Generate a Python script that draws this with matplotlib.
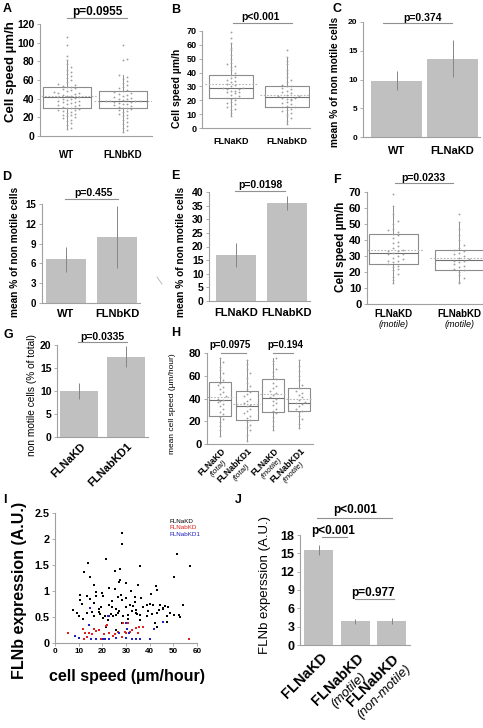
import numpy as np
import matplotlib
matplotlib.use('Agg')
import matplotlib.pyplot as plt
from matplotlib.lines import Line2D
from matplotlib.textpath import TextPath
from matplotlib.font_manager import FontProperties
import matplotlib.transforms as mtransforms

plt.rcParams['font.family'] = ['Liberation Sans', 'DejaVu Sans']

# ---------------- data ----------------
# A: cell speed WT vs FLNbKD (box plots)
A_groups = ['WT', 'FLNbKD']
A_q1 = [30, 30]
A_med = [42, 37]
A_q3 = [52, 48]
A_lo = [7, 4]
A_hi = [81, 65]
A_mean = [42.5, 38]
A_wt_pts = [7, 9, 12, 14, 16, 17, 19, 20, 21, 22, 23, 24, 25, 26, 27, 28, 28, 29, 30, 30, 31, 32, 33, 33,
            34, 35, 36, 36, 37, 38, 39, 40, 40, 41, 42, 42, 43, 43, 44, 45, 46, 46, 47, 48, 49, 50, 51, 52,
            53, 54, 55, 56, 58, 60, 62, 64, 66, 69, 71, 74, 77, 81, 86, 97, 106]
A_kd_pts = [4, 6, 9, 11, 13, 15, 17, 19, 21, 22, 24, 26, 27, 28, 29, 30, 30, 31, 32, 33, 34, 34, 35, 36,
            36, 37, 37, 38, 38, 39, 40, 40, 41, 42, 43, 44, 45, 46, 47, 48, 49, 51, 53, 55, 57, 59, 61,
            63, 65, 81, 82, 98]

# B: cell speed FLNaKD vs FLNabKD
B_groups = ['FLNaKD', 'FLNabKD']
B_q1 = [22, 15]
B_med = [29, 22.5]
B_q3 = [38, 30]
B_lo = [9, 3]
B_hi = [61, 51]
B_mean = [31.5, 24]
B_a_pts = [9, 11, 13, 14, 15, 16, 17, 18, 19, 20, 21, 22, 22, 23, 24, 25, 26, 26, 27, 27, 28, 28, 29, 29,
           30, 31, 32, 33, 34, 35, 36, 37, 38, 40, 42, 44, 45, 46, 47, 50, 53, 56, 58, 61, 65, 69]
B_ab_pts = [3, 5, 7, 9, 10, 11, 12, 13, 14, 15, 15, 16, 17, 18, 19, 20, 21, 21, 22, 22, 23, 23, 24, 25,
            26, 27, 28, 29, 30, 30, 31, 33, 35, 37, 40, 42, 46, 48, 51, 56]

# C, D, E, G: % non motile cells (bars)
C_groups = ['WT', 'FLNaKD']
C_vals = [9.8, 13.6]
C_err = [1.6, 3.2]
D_groups = ['WT', 'FLNbKD']
D_vals = [6.6, 10.0]
D_err = [1.95, 4.75]
E_groups = ['FLNaKD', 'FLNabKD']
E_vals = [17.0, 36.0]
E_err = [4.4, 2.7]
G_groups = ['FLNaKD', 'FLNabKD1']
G_vals = [10.0, 17.5]
G_err = [1.8, 2.2]

# F: motile cells only
F_groups = ['FLNaKD', 'FLNabKD']
F_q1 = [25, 21.5]
F_med = [32, 27.5]
F_q3 = [44, 34]
F_lo = [13, 13]
F_hi = [61, 51]
F_mean = [34, 29]
F_a_pts = [13, 15, 17, 19, 21, 22, 23, 24, 25, 26, 27, 27, 28, 29, 30, 31, 31, 32, 33, 33, 34, 35, 36, 38,
           39, 41, 43, 44, 45, 46, 47, 50, 52, 56, 61, 69]
F_ab_pts = [13, 14, 16, 18, 20, 21, 22, 23, 24, 25, 26, 27, 27, 28, 29, 30, 31, 32, 33, 34, 35, 37, 40, 43,
            47, 51, 56]

# H: mean cell speed, total / motile
H_names = ['FLNaKD', 'FLNabKD1', 'FLNaKD', 'FLNabKD1']
H_sub = ['(total)', '(total)', '(motile)', '(motile)']
H_q1 = [24.5, 21, 28, 29]
H_med = [39, 33.5, 40.5, 36]
H_q3 = [54.5, 47, 57.5, 49]
H_lo = [7, 3, 12, 14]
H_hi = [76, 74, 76, 74]
H_mean = [41.5, 35, 44, 40]
H_pts = [
    [7, 12, 16, 19, 22, 24, 26, 28, 31, 33, 35, 37, 38, 39, 40, 42, 44, 46, 48, 50, 52, 54, 56, 59, 62, 65, 68, 72, 76],
    [3, 8, 12, 15, 17, 19, 21, 23, 25, 27, 29, 31, 33, 34, 36, 38, 40, 42, 44, 46, 48, 51, 54, 58, 62, 66, 70, 74],
    [12, 16, 20, 24, 27, 29, 31, 34, 36, 38, 40, 41, 43, 45, 47, 49, 51, 54, 57, 60, 63, 66, 70, 73, 76],
    [14, 18, 22, 25, 28, 29, 31, 33, 35, 36, 37, 39, 41, 43, 45, 47, 49, 52, 56, 60, 64, 69, 74],
]

# I: FLNb expression vs speed
I_a_speed = [28.4, 28.4, 21.6, 51.5, 57.2, 36.1, 13.8, 27.5, 25.2, 12.4, 14.9, 50.1, 27.5, 26.9, 29.9, 16.6,
             35.1, 42.5, 43.2, 10.7, 10.7, 13.4, 14.9, 19.9, 20.2, 22.8, 25.2, 26.6, 27.9, 28.4, 30.1, 33.7,
             36.5, 33.7, 17.3, 17.3, 16.6, 19.5, 18.8, 23.0, 24.2, 25.6, 27.0, 29.9, 31.6, 33.0, 34.4, 37.3,
             38.7, 40.1, 41.2, 44.4, 46.5, 47.9, 45.5, 44.1, 54.1, 7.8, 9.1, 13.4, 16.3, 21.3, 23.7, 24.5,
             25.9, 28.7, 30.9, 34.1, 34.7, 42.9, 47.2, 52.2, 20.2, 10.2, 18.8, 35.8, 38.7, 45.8, 47.2, 50.1,
             52.9, 42.3, 43.0, 28.4, 29.9, 21.6, 25.9, 12.0, 15.5, 19.0, 22.5, 26.5, 31.0, 32.5, 36.0, 39.5,
             41.0, 48.5, 11.5, 24.0, 32.0, 40.5]
I_a_expr = [2.12, 1.90, 1.62, 1.71, 1.49, 1.48, 1.54, 1.42, 1.39, 1.37, 1.27, 1.27, 1.21, 1.18, 1.16, 1.12,
            1.12, 1.10, 1.01, 0.92, 0.83, 0.90, 0.85, 0.97, 0.90, 1.06, 1.04, 0.88, 0.92, 0.83, 0.86, 0.89,
            0.87, 0.79, 0.99, 0.90, 0.77, 0.70, 0.65, 0.73, 0.70, 0.65, 0.62, 0.70, 0.73, 0.71, 0.63, 0.70,
            0.73, 0.75, 0.73, 0.73, 0.71, 0.70, 0.65, 0.63, 0.73, 0.63, 0.58, 0.57, 0.52, 0.52, 0.56, 0.52,
            0.53, 0.51, 0.54, 0.57, 0.56, 0.57, 0.51, 0.54, 0.48, 0.51, 0.60, 0.54, 0.51, 0.67, 0.41, 0.54,
            0.50, 0.38, 0.31, 0.38, 0.38, 0.31, 0.25, 0.47, 0.60, 0.55, 0.45, 0.58, 0.47, 0.62, 0.44, 0.62,
            0.55, 0.58, 0.75, 0.80, 1.00, 0.95]
I_ab_speed = [5.7, 8.5, 11.7, 12.8, 13.4, 14.2, 12.4, 16.4, 17.3, 18.5, 15.6, 19.5, 20.5, 21.6, 21.9, 23.0,
              24.5, 25.2, 26.6, 28.7, 29.4, 30.1, 30.9, 31.9, 32.7, 34.4, 35.6, 37.3, 35.1, 28.4, 56.5]
I_ab_expr = [0.19, 0.13, 0.26, 0.20, 0.12, 0.19, 0.07, 0.26, 0.24, 0.25, 0.17, 0.07, 0.17, 0.33, 0.35, 0.19,
             0.13, 0.17, 0.22, 0.39, 0.22, 0.20, 0.38, 0.22, 0.25, 0.28, 0.30, 0.31, 0.20, 0.11, 0.07]
I_ab1_speed = [8.5, 10.2, 14.5, 14.8, 15.2, 17.3, 20.2, 21.3, 22.3, 22.8, 23.0, 25.9, 26.9, 30.1, 30.5, 31.2,
               32.7, 34.4, 35.8, 40.1, 41.8, 45.8, 30.0]
I_ab1_expr = [0.13, 0.10, 0.35, 0.67, 0.07, 0.07, 0.07, 0.07, 0.52, 0.51, 0.07, 0.10, 0.19, 0.38, 0.26, 0.20,
              0.07, 0.07, 0.07, 0.07, 0.26, 0.41, 0.10]

# J: FLNb expression
J_names = ['FLNaKD', 'FLNabKD', 'FLNabKD']
J_sub = [None, '(motile)', '(non-motile)']
J_vals = [15.5, 3.9, 3.9]
J_err = [0.8, 0.4, 0.5]

# ---------------- helpers ----------------
W, H = 483, 728
fig = plt.figure(figsize=(W / 100, H / 100), dpi=100)
GREY = '#a0a0a0'
BAR = '#c0c0c0'


def pax(x0, y0, x1, y1):
    return fig.add_axes([x0 / W, 1 - y1 / H, (x1 - x0) / W, (y1 - y0) / H])


def ftext(x, y, s, **kw):
    kw.setdefault('ha', 'center')
    kw.setdefault('va', 'center')
    fig.text(x / W, 1 - y / H, s, **kw)


def fline(x0, x1, y0, y1=None, color='#909090', lw=0.8):
    y1 = y0 if y1 is None else y1
    fig.add_artist(Line2D([x0 / W, x1 / W], [1 - y0 / H, 1 - y1 / H], transform=fig.transFigure,
                          color=color, lw=lw))


def sig(x0, x1, y, txt, tx, ty, fs):
    fline(x0, x1, y)
    ftext(tx, ty, txt, fontsize=fs, fontweight='bold')


def style(ax, ylim, yt, fs, labels=None):
    ax.set_ylim(*ylim)
    ax.set_yticks(yt, labels=labels if labels else [str(v) for v in yt], fontsize=fs, fontweight='bold')
    for sp in ['top', 'right']:
        ax.spines[sp].set_visible(False)
    for sp in ['left', 'bottom']:
        ax.spines[sp].set_color(GREY)
        ax.spines[sp].set_linewidth(0.8)
    ax.tick_params(axis='y', length=2.5, width=0.6, color=GREY, pad=1.5)
    ax.tick_params(axis='x', length=0)
    ax.patch.set_alpha(0)


def swarm(vals, pos, binw, step):
    vals = np.sort(np.asarray(vals, float))
    xs = np.empty_like(vals)
    bins = np.round(vals / binw)
    for b in np.unique(bins):
        idx = np.where(bins == b)[0]
        for k, i in enumerate(idx):
            j = (k + 1) // 2
            xs[i] = pos + (j if k % 2 else -j) * step
    return xs, vals


def boxes(ax, q1, med, q3, lo, hi, means, pts, w, binw, step):
    pos = np.arange(1, len(q1) + 1)
    stats = [dict(med=m, q1=a, q3=b, whislo=l, whishi=h, fliers=[])
             for a, m, b, l, h in zip(q1, med, q3, lo, hi)]
    ax.bxp(stats, positions=pos, widths=w, showfliers=False, showcaps=False,
           boxprops=dict(color='#8c8c8c', lw=0.8), medianprops=dict(color='#707070', lw=0.8),
           whiskerprops=dict(color='#7a7a7a', lw=0.6))
    ax.hlines(means, pos - 0.6 * w, pos + 0.6 * w, colors='#b5b5b5', lw=0.8, linestyles=(0, (1.5, 1.5)))
    for p, v in zip(pos, pts):
        xs, ys = swarm(v, p, binw, step)
        ax.scatter(xs, ys, s=1.8, color='#a0a0a0', lw=0, zorder=3)
    return pos


def bars(ax, vals, err, w):
    pos = np.arange(1, len(vals) + 1)
    ax.bar(pos, vals, width=w, color=BAR, zorder=1)
    ax.errorbar(pos, vals, yerr=err, fmt='none', ecolor='#858585', elinewidth=0.7, capsize=0, zorder=2)
    return pos


def xlabels(ax, pos, names, fs, pad):
    ax.set_xticks(pos, labels=names, fontsize=fs, fontweight='bold')
    ax.tick_params(axis='x', pad=pad)


def rot_labels(ax, x, lines, pad=3, ang=45):
    widths = []
    for t, sz, wt, st in lines:
        fp = FontProperties(family='Liberation Sans', weight=wt, style=st, size=sz)
        widths.append(TextPath((0, 0), t, prop=fp).get_extents().width)
    wmax = max(widths)
    c, s = np.cos(np.radians(ang)), np.sin(np.radians(ang))
    base = mtransforms.blended_transform_factory(ax.transData, ax.transAxes)
    down = 0
    for t, sz, wt, st in lines:
        lh = sz * 1.1
        dc = down + lh / 2
        dx = -wmax / 2 * c + dc * s
        dy = -wmax / 2 * s - dc * c - pad
        tr = base + mtransforms.ScaledTranslation(dx / 72, dy / 72, fig.dpi_scale_trans)
        ax.text(x, 0, t, transform=tr, rotation=ang, rotation_mode='anchor', ha='center', va='center',
                fontsize=sz, fontweight=wt, fontstyle=st, clip_on=False)
        down += lh


# ---------------- A ----------------
ax = pax(40, 24, 152, 136)
pos = boxes(ax, A_q1, A_med, A_q3, A_lo, A_hi, A_mean, [A_wt_pts, A_kd_pts], 0.86, 4.5, 0.075)
ax.set_xlim(0.52, 2.52)
style(ax, (0, 120), range(0, 121, 20), 7.5)
xlabels(ax, pos, A_groups, 7, 10)
ftext(11, 72, 'Cell speed µm/h', rotation=90, fontsize=9.5, fontweight='bold')
sig(67, 127, 18, 'p=0.0955', 97, 12, 8.5)

# ---------------- B ----------------
ax = pax(202, 31, 310, 128)
pos = boxes(ax, B_q1, B_med, B_q3, B_lo, B_hi, B_mean, [B_a_pts, B_ab_pts], 0.79, 2.8, 0.075)
ax.set_xlim(0.48, 2.42)
style(ax, (0, 70), range(0, 71, 10), 6.5)
xlabels(ax, pos, B_groups, 6.5, 6.5)
ftext(177, 88, 'Cell speed µm/h', rotation=90, fontsize=7.5, fontweight='bold')
sig(233, 292, 23, 'p<0.001', 260, 17, 7.5)

# ---------------- C ----------------
ax = pax(363, 22, 480, 137)
pos = bars(ax, C_vals, C_err, 0.91)
ax.set_xlim(0.40, 2.49)
style(ax, (0, 20), range(0, 21, 5), 6)
xlabels(ax, pos, C_groups, 8, 6.8)
ftext(335, 82, 'mean % of non motile cells', rotation=90, fontsize=7.3, fontweight='bold')
sig(383, 452, 23, 'p=0.374', 423, 18, 7.5)

# ---------------- D ----------------
ax = pax(42, 204, 140, 303)
pos = bars(ax, D_vals, D_err, 0.8)
ax.set_xlim(0.53, 2.45)
style(ax, (0, 15), range(0, 16, 3), 7)
xlabels(ax, pos, D_groups, 8, 4)
ftext(15, 252, 'mean % of non motile cells', rotation=90, fontsize=7.3, fontweight='bold')
sig(65, 118, 199, 'p=0.455', 93, 193, 7.5)
fline(157, 162, 277, 284, color='#b0b0b0', lw=0.6)

# ---------------- E ----------------
ax = pax(209, 192, 310, 301)
pos = bars(ax, E_vals, E_err, 0.78)
ax.set_xlim(0.47, 2.45)
style(ax, (0, 40), range(0, 41, 5), 7.5)
xlabels(ax, pos, E_groups, 8, 5)
ftext(181, 252, 'mean % of non motile cells', rotation=90, fontsize=7.3, fontweight='bold')
sig(235, 285, 191, 'p=0.0198', 260, 185, 7.5)

# ---------------- F ----------------
ax = pax(367, 192, 483, 304)
pos = boxes(ax, F_q1, F_med, F_q3, F_lo, F_hi, F_mean, [F_a_pts, F_ab_pts], 0.74, 3.0, 0.075)
ax.set_xlim(0.60, 2.36)
style(ax, (0, 70), range(0, 71, 10), 8)
xlabels(ax, pos, F_groups, 7, 3.5)
tr = mtransforms.blended_transform_factory(ax.transData, ax.transAxes)
for p in pos:
    ax.text(p, 0, '(motile)', transform=tr + mtransforms.ScaledTranslation(0, -15 / 72, fig.dpi_scale_trans),
            ha='center', va='center', fontsize=6.5, fontstyle='italic')
ftext(341, 247, 'Cell speed µm/h', rotation=90, fontsize=8.5, fontweight='bold')
sig(395, 453, 183, 'p=0.0233', 423, 178, 7.5)

# ---------------- G ----------------
ax = pax(57, 345, 148, 437)
pos = bars(ax, G_vals, G_err, 0.81)
ax.set_xlim(0.53, 2.47)
style(ax, (0, 20), range(0, 21, 5), 7.5)
ax.set_xticks(pos, labels=['', ''])
for p, n in zip(pos, G_groups):
    rot_labels(ax, p, [(n, 8, 'bold', 'normal')], pad=3)
ftext(32, 395, 'non motile cells (% of total)', rotation=90, fontsize=7.3)
sig(78, 127, 342, 'p=0.0335', 102, 337, 7.5)

# ---------------- H ----------------
ax = pax(207, 353, 313, 444)
pos = boxes(ax, H_q1, H_med, H_q3, H_lo, H_hi, H_mean, H_pts, 0.84, 5.0, 0.11)
ax.set_xlim(0.49, 4.52)
style(ax, (0, 80), range(0, 81, 20), 8)
ax.set_xticks(pos, labels=['', '', '', ''])
for p, n, sub in zip(pos, H_names, H_sub):
    rot_labels(ax, p, [(n, 6.3, 'bold', 'normal'), (sub, 5.8, 'normal', 'italic')], pad=2)
ftext(172, 404, 'mean cell speed (µm/hour)', rotation=90, fontsize=6)
sig(221, 246, 353, 'p=0.0975', 230, 345, 7)
sig(273, 293, 353, 'p=0.194', 285, 345, 7)

# ---------------- I ----------------
ax = pax(55, 513, 197, 643)
ax.scatter(I_a_speed, I_a_expr, s=3.5, marker='s', color='black', lw=0, zorder=3)
ax.scatter(I_ab_speed, I_ab_expr, s=3.5, marker='s', color='#e02020', lw=0, zorder=3)
ax.scatter(I_ab1_speed, I_ab1_expr, s=3.5, marker='s', color='#2020c0', lw=0, zorder=3)
ax.set_xlim(0, 60)
style(ax, (0, 2.5), [0, 0.5, 1, 1.5, 2, 2.5], 7.8, labels=['0', '0.5', '1', '1.5', '2', '2.5'])
ax.set_xticks(range(0, 61, 10), labels=[str(v) for v in range(0, 61, 10)], fontsize=5.8, fontweight='bold')
ax.tick_params(axis='x', length=2, width=0.6, color=GREY, pad=1.5)
ftext(20, 590, 'FLNb expression (A.U.)', rotation=90, fontsize=11.5, fontweight='bold')
ftext(127, 677, 'cell speed (µm/hour)', fontsize=11.5, fontweight='bold')
ftext(170, 521.7, 'FLNaKD', fontsize=4.5, ha='left', color='black')
ftext(170, 527.8, 'FLNabKD', fontsize=4.5, ha='left', color='#e02020')
ftext(170, 534, 'FLNabKD1', fontsize=4.5, ha='left', color='#2020c0')

# ---------------- J ----------------
ax = pax(300, 535, 410, 645)
pos = bars(ax, J_vals, J_err, 0.79)
ax.set_xlim(0.49, 3.50)
style(ax, (0, 18), range(0, 19, 3), 9)
ax.set_xticks(pos, labels=['', '', ''])
for p, n, sub in zip(pos, J_names, J_sub):
    lines = [(n, 10.5, 'bold', 'normal')]
    if sub:
        lines.append((sub, 9.5, 'normal', 'italic'))
    rot_labels(ax, p, lines, pad=4)
ftext(265, 585, 'FLNb experssion (A.U.)', rotation=90, fontsize=9.5)
sig(317, 392, 518, 'p<0.001', 355, 510, 8.5)
sig(322, 347, 537, 'p<0.001', 333, 531, 8.5)
sig(355, 394, 599, 'p=0.977', 373, 593, 8.5)

# panel letters
for lab, x, y in [('A', 7, 9), ('B', 176, 10), ('C', 337, 9), ('D', 7, 177), ('E', 175, 176),
                  ('F', 337, 180), ('G', 8, 335), ('H', 176, 333), ('I', 5, 500), ('J', 238, 500)]:
    ftext(x, y, lab, fontsize=9, fontweight='bold')

fig.savefig('out.png', dpi=100)
